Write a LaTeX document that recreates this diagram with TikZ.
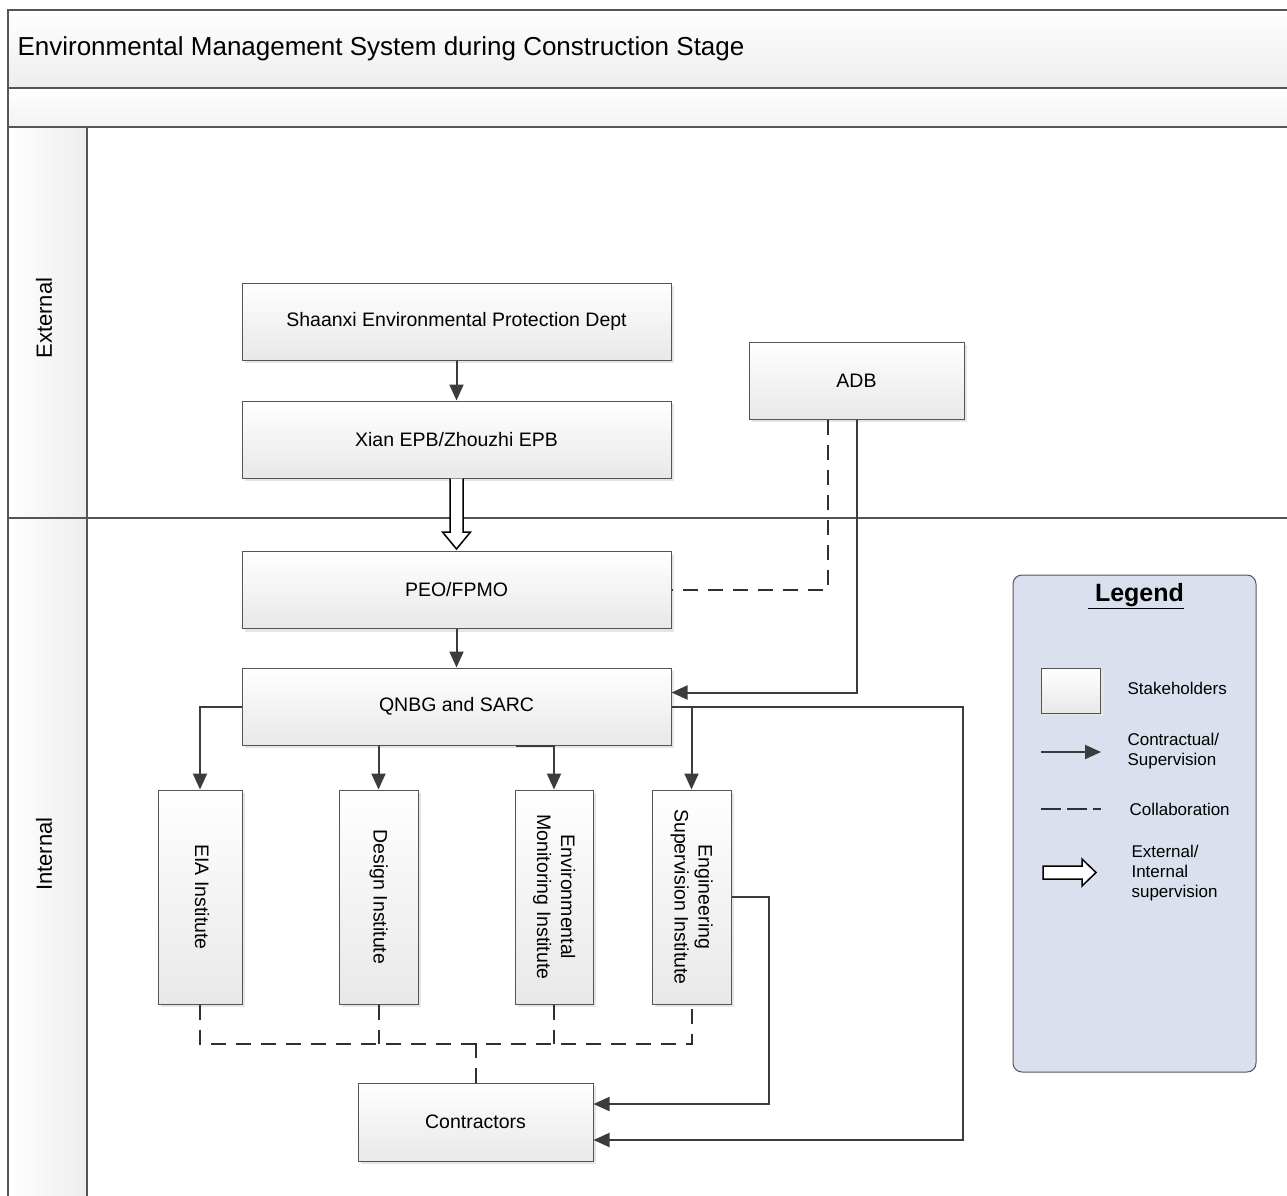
\documentclass[tikz,border=0pt]{standalone}
\usepackage{fontspec}
\setmainfont{Liberation Sans}
\usepackage{graphicx}
\usetikzlibrary{arrows.meta, positioning, calc, shadows}

\definecolor{linegray}{HTML}{3C3C3C}
\definecolor{framegray}{HTML}{555555}
\definecolor{legendfill}{HTML}{DAE0EE}

\newcommand{\vtext}[1]{\rotatebox{-90}{\begin{tabular}{@{}c@{}}#1\end{tabular}}}

\begin{document}
\begin{tikzpicture}[x=1pt, y=-1pt,
    box/.style={draw=framegray, line width=1pt, top color=white, bottom color=black!9, minimum width=429pt, minimum height=77pt, font=\fontsize{19.5}{24}\selectfont, align=center, drop shadow={shadow xshift=3pt, shadow yshift=-3pt, fill=black!10, opacity=1}},
    vbox/.style={box, minimum width=79pt, minimum height=214pt},
    arr/.style={-{Triangle[length=16pt, width=14pt]}, line width=2pt, draw=linegray},
    collab/.style={line width=2pt, draw=linegray!80!black, dash pattern=on 15pt off 10pt},
    hollow/.style={draw=black, fill=white, line width=1.5pt, line join=miter},
    lane/.style={draw=framegray, line width=1.2pt},
    legtext/.style={anchor=west, align=left, font=\fontsize{17}{20}\selectfont},
]
    \useasboundingbox (0,0) rectangle (1287,1195);
    \clip (0,0) rectangle (1287,1195);

    % swimlanes
    \fill[top color=white, bottom color=black!7] (8,10) rectangle (1300,88);
    \fill[top color=white, bottom color=black!5] (8,88) rectangle (1300,127);
    \fill[left color=white, right color=black!7] (8,127) rectangle (87,1300);
    \draw[lane] (8,10) rectangle (1300,1300);
    \draw[lane] (8,88) -- (1300,88);
    \draw[lane] (8,127) -- (1300,127);
    \draw[lane] (87,127) -- (87,1300);
    \draw[lane] (8,518) -- (1300,518);
    \node[anchor=west, font=\fontsize{26}{30}\selectfont] (title) at (14,49) {Environmental Management System during Construction Stage};
    \node[rotate=90, font=\fontsize{22}{26}\selectfont] (external) at (44,318) {External};
    \node[rotate=90, font=\fontsize{22}{26}\selectfont] (internal) at (44,854) {Internal};

    % stakeholders
    \node[box] (shaanxi) at (456.5,321.5) {Shaanxi Environmental Protection Dept};
    \node[box] (xian) at (456.5,439.5) {Xian EPB/Zhouzhi EPB};
    \node[box, minimum width=215pt] (adb) at (856.5,380.5) {ADB};
    \node[box] (peo) at (456.5,590) {PEO/FPMO};
    \node[box] (qnbg) at (456.5,706.5) {QNBG and SARC};
    \node[vbox, minimum width=84pt] (eia) at (200,897) {\vtext{EIA Institute}};
    \node[vbox] (design) at (378.5,897) {\vtext{Design Institute}};
    \node[vbox, minimum width=78pt] (envmon) at (554,897) {\vtext{Environmental\\Monitoring Institute}};
    \node[vbox] (engsup) at (691.5,897) {\vtext{Engineering\\Supervision Institute}};
    \node[box, minimum width=235pt, minimum height=78pt] (contractors) at (475.5,1122) {Contractors};

    % connectors
    \draw[arr] (shaanxi) -- (xian);
    \draw[hollow] ($(xian.south)+(-6.5,0)$) -- ($(peo.north)+(-6.5,-19)$) -- ($(peo.north)+(-14,-19)$) -- ($(peo.north)+(0,-2)$) -- ($(peo.north)+(14,-19)$) -- ($(peo.north)+(6.5,-19)$) -- ($(xian.south)+(6.5,0)$);
    \draw[collab] ($(adb.south)+(-29,0)$) |- (peo.east);
    \draw[arr] (adb.south) |- ($(qnbg.east)+(0,-14)$);
    \draw[arr] (peo) -- (qnbg);
    \draw[arr] (qnbg.west) -| (eia.north);
    \draw[arr] (qnbg.south -| design.north) -- (design.north);
    \draw[arr] ($(qnbg.south)+(59,0)$) -| (envmon.north);
    \draw[arr] (qnbg.east) -| (engsup.north);
    \draw[arr] (qnbg.east) -- ++(291,0) |- ($(contractors.east)+(0,18)$);
    \draw[arr] (engsup.east) -- ++(37,0) |- ($(contractors.east)+(0,-18)$);
    \draw[collab] (eia.south) -- ++(0,39) -| (engsup.south);
    \draw[collab] (design.south) -- ++(0,39);
    \draw[collab] (envmon.south) -- ++(0,39);
    \draw[collab] (contractors.north) -- ++(0,-40);

    % legend
    \node[draw=framegray, line width=1pt, fill=legendfill, rounded corners=9pt, minimum width=243pt, minimum height=497pt] (legend) at (1134.5,823.5) {};
    \node[font=\bfseries\fontsize{25}{28}\selectfont] (legtitle) at (1136,596) {\underline{ Legend}};
    \node[box, minimum width=59pt, minimum height=45pt] (legbox) at (1071,690.5) {};
    \node[legtext] (legboxtext) at (1124,688) {Stakeholders};
    \coordinate (legarrA) at (1041,752);
    \coordinate (legarrB) at (1101,752);
    \draw[arr] (legarrA) -- (legarrB);
    \node[legtext] (legarrtext) at (1124,751) {Contractual/\\Supervision};
    \coordinate (legcolA) at (1041,809);
    \coordinate (legcolB) at (1101,809);
    \draw[collab, dash pattern=on 20pt off 6pt] (legcolA) -- (legcolB);
    \node[legtext] (legcoltext) at (1126,809) {Collaboration};
    \draw[hollow] (1043,866) -- (1082,866) -- (1082,859) -- (1096,872.5) -- (1082,886) -- (1082,879) -- (1043,879) -- cycle;
    \node[legtext] (leghollowtext) at (1128,873) {External/\\Internal\\supervision};
\end{tikzpicture}
\end{document}
